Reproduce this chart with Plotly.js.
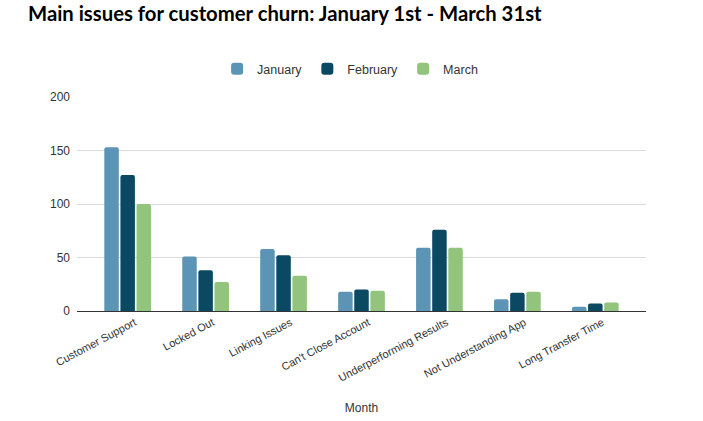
<!DOCTYPE html>
<html>
<head>
<meta charset="utf-8">
<script src="https://cdn.plot.ly/plotly-3.0.1.min.js"></script>
<style>
  html, body { margin: 0; padding: 0; background: #fff; }
  #chart { width: 703px; height: 421px; }
</style>
</head>
<body>
<div id="chart"></div>
<script>
// categories and monthly counts
const issues = ['Customer Support', 'Locked Out', 'Linking Issues', "Can't Close Account",
  'Underperforming Results', 'Not Understanding App', 'Long Transfer Time'];
const january = [153, 51, 58, 18, 59, 11, 4];
const february = [127, 38, 52, 20, 76, 17, 7];
const march = [100, 27, 33, 19, 59, 18, 8];

const seriesNames = ['January', 'February', 'March'];
const seriesColors = ['#5b94b4', '#0b4862', '#93c47d'];

const traces = [january, february, march].map((vals, i) => ({
    x: issues,
    y: vals,
    name: seriesNames[i],
    type: 'bar',
    marker: { color: seriesColors[i], cornerradius: 2 },
    hoverinfo: 'x+y+name'
}));

const layout = {
    width: 703,
    height: 421,
    paper_bgcolor: '#fff',
    plot_bgcolor: '#fff',
    font: { family: 'Liberation Sans, Arial, sans-serif', color: '#444', size: 12 },
    title: {
        text: '<b>Main issues for customer churn: January 1st - March 31st</b>',
        font: { family: 'Lato, sans-serif', size: 20.3, color: '#000' },
        x: 28 / 703, xanchor: 'left', xref: 'container',
        y: 1 - 14 / 421, yanchor: 'middle', yref: 'container'
    },
    margin: { l: 77, r: 57, t: 97, b: 110 },
    barmode: 'group',
    bargap: 0.38,
    bargroupgap: 0.1,
    showlegend: true,
    legend: {
        orientation: 'h',
        x: 0.48, xanchor: 'center',
        y: 1.13, yanchor: 'middle',
        font: { size: 12.5, color: '#333' },
        itemwidth: 30
    },
    xaxis: {
        range: [-0.65, 6.65],
        tickangle: -28,
        tickfont: { size: 11, color: '#333' },
        ticklabelshift: 7,
        showline: true,
        linecolor: '#333',
        linewidth: 1,
        ticks: '',
        automargin: false,
        title: { text: 'Month', font: { size: 12, color: '#333' }, standoff: 20 }
    },
    yaxis: {
        range: [0, 200],
        dtick: 50,
        tickfont: { size: 12, color: '#333' },
        gridcolor: '#dcdcdc',
        zeroline: false,
        ticks: '',
        ticklabelstandoff: 6,
        automargin: false
    }
};

Plotly.newPlot('chart', traces, layout, { displayModeBar: false, staticPlot: true });
</script>
</body>
</html>
